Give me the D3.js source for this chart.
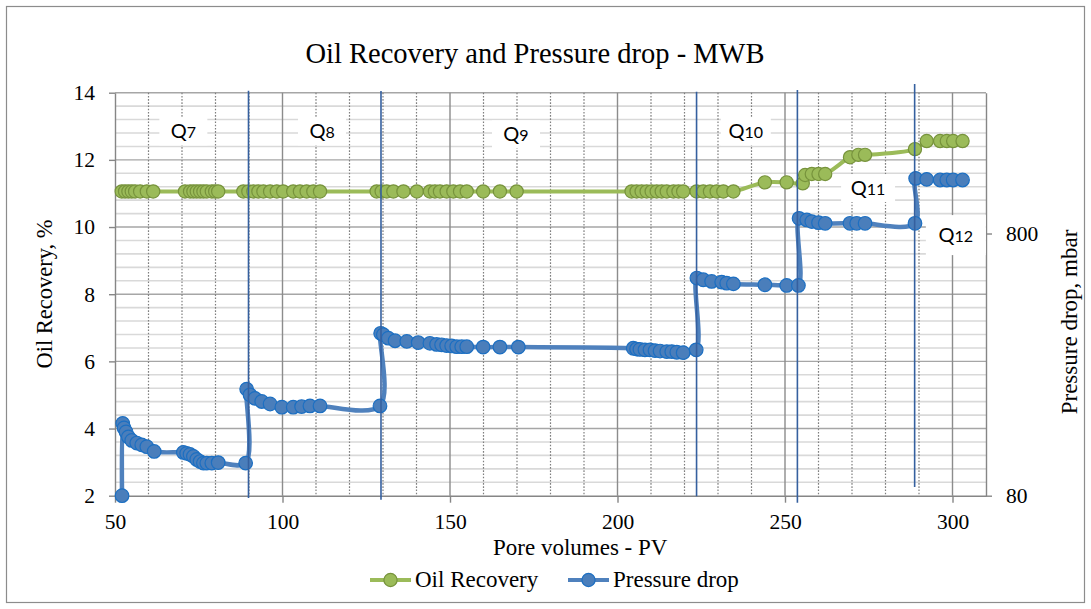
<!DOCTYPE html>
<html>
<head>
<meta charset="utf-8">
<script src="https://cdn.jsdelivr.net/npm/d3@7"></script>
<style>
  body { margin: 0; background: #fff; }
  svg { display: block; }
</style>
</head>
<body>
<svg id="chart" width="1091" height="609"></svg>
<script>
// Oil recovery (%) versus injected pore volumes
const pvOil = [
  52.0, 53.0, 54.0, 55.0, 56.0, 57.5, 59.5, 61.4,
  70.9, 72.4, 73.4, 74.4, 75.4, 76.4, 77.4, 78.9, 79.9, 80.8,
  88.3, 89.8, 91.3, 92.8, 94.3, 96.3, 98.3, 100.2, 103.2, 105.2, 107.2, 109.2, 111.2,
  128.1, 129.6, 131.1, 133.1, 136.1, 140.1, 144.0, 145.5, 147.0, 149.0, 151.0, 153.0, 155.0, 159.9, 164.9, 169.9,
  204.2, 205.7, 207.2, 208.7, 210.2, 211.7, 213.2, 214.7, 216.7, 218.2, 219.6, 223.6, 225.6, 227.6, 229.6, 231.6, 234.6,
  244.0, 250.5, 255.3, 256.0, 258.0, 260.0, 262.0, 269.4, 271.9, 273.9, 288.8, 292.3, 296.3, 298.3, 300.2, 303.0
];
const oilRecovery = [
  11.06, 11.06, 11.06, 11.06, 11.06, 11.06, 11.06, 11.06,
  11.06, 11.06, 11.06, 11.06, 11.06, 11.06, 11.06, 11.06, 11.06, 11.06,
  11.06, 11.06, 11.06, 11.06, 11.06, 11.06, 11.06, 11.06, 11.06, 11.06, 11.06, 11.06, 11.06,
  11.06, 11.06, 11.06, 11.06, 11.06, 11.06, 11.06, 11.06, 11.06, 11.06, 11.06, 11.06, 11.06, 11.06, 11.06, 11.06,
  11.06, 11.06, 11.06, 11.06, 11.06, 11.06, 11.06, 11.06, 11.06, 11.06, 11.06, 11.06, 11.06, 11.06, 11.06, 11.06, 11.06,
  11.33, 11.33, 11.30, 11.55, 11.58, 11.58, 11.58, 12.08, 12.15, 12.15, 12.32, 12.56, 12.56, 12.56, 12.56, 12.56
];

// Pressure drop (mbar) versus injected pore volumes
const pvPressure = [
  52.1, 52.3, 52.7, 53.3, 54.0, 55.0, 56.5, 58.0, 59.5, 61.7,
  70.4, 71.4, 72.4, 73.4, 74.4, 75.4, 76.4, 77.4, 78.9, 80.8, 89.0,
  89.3, 90.3, 91.8, 93.8, 96.3, 99.8, 103.2, 105.7, 108.2, 111.2, 129.1,
  129.3, 130.1, 131.6, 133.6, 137.1, 140.5, 144.0, 146.0, 147.5, 149.0, 150.5, 152.0, 153.5, 155.0, 159.9, 164.9, 170.4,
  204.7, 205.7, 206.7, 208.2, 209.7, 211.2, 212.7, 214.7, 216.2, 217.7, 219.6, 223.5,
  223.7, 225.6, 228.1, 231.1, 232.6, 234.6, 244.0, 250.5, 254.0,
  254.2, 256.5, 258.0, 260.0, 262.0, 269.4, 271.4, 273.9, 288.8,
  289.0, 292.3, 296.3, 298.3, 300.2, 303.0
];
const pressureDrop = [
  80, 151, 145, 140, 134, 130, 127, 125, 123, 118,
  117, 116, 115, 113, 110, 108, 106.5, 106.5, 106.5, 107, 106.5,
  204, 194, 188, 183, 179, 174, 174, 175, 176, 176, 176,
  333, 329, 319, 312, 310, 307, 305, 302, 301, 299, 298, 296, 296, 296, 295, 295, 295,
  292, 290, 289, 288, 288, 286, 285, 283.5, 283.5, 282, 281, 288,
  541, 533, 525, 522, 517, 514, 510, 507, 507,
  914, 901, 888, 880, 875, 875, 875, 875, 875,
  1298, 1287, 1280, 1280, 1280, 1280
];

// Axis ticks
const xTicks = [50, 100, 150, 200, 250, 300];
const yLeftTicks = [2, 4, 6, 8, 10, 12, 14];
const yRightTicks = [80, 800];

// Injection-rate steps and the pore volume at which each new rate starts
const rateSteps = ["7", "8", "9", "10", "11", "12"];
const rateChangePV = [89.85, 129.4, 223.6, 253.7, 288.7];

// ---- layout ----
const svg = d3.select("#chart");
const plot = { left: 115, right: 986, top: 92.7, bottom: 495.7 };
const serif = "'Liberation Serif', 'Times New Roman', serif";
const sans = "Lato, 'Open Sans', sans-serif";

const x = d3.scaleLinear().domain([50, 310]).range([plot.left, plot.right]);
const yL = d3.scaleLinear().domain([2, 14]).range([plot.bottom, plot.top]);
const yR = d3.scaleLog().domain([80, 2755]).range([plot.bottom, plot.top]);

// outer frame
svg.append("rect")
  .attr("x", 6.5).attr("y", 6.5).attr("width", 1078).attr("height", 596)
  .attr("fill", "#fff").attr("stroke", "#8c8c8c").attr("stroke-width", 1.2);

// ---- gridlines ----
const grid = svg.append("g");
const minorY = d3.range(2.4, 14, 0.4).filter(v => Math.abs(v / 2 - Math.round(v / 2)) > 0.01);
grid.selectAll(".hminor").data(minorY).join("line")
  .attr("x1", plot.left).attr("x2", plot.right)
  .attr("y1", d => yL(d)).attr("y2", d => yL(d))
  .attr("stroke", "#d9d9d9").attr("stroke-width", 1.6);
grid.selectAll(".hmajor").data(yLeftTicks.filter(v => v > 2)).join("line")
  .attr("x1", plot.left).attr("x2", plot.right)
  .attr("y1", d => yL(d)).attr("y2", d => yL(d))
  .attr("stroke", "#a6a6a6").attr("stroke-width", 1.4);
const minorX = d3.range(60, 310, 10).filter(v => v % 50 !== 0);
grid.selectAll(".vminor").data(minorX).join("line")
  .attr("x1", d => x(d)).attr("x2", d => x(d))
  .attr("y1", plot.top).attr("y2", plot.bottom)
  .attr("stroke", "#7f7f7f").attr("stroke-width", 1.2)
  .attr("stroke-dasharray", "1.6,1.6");
grid.selectAll(".vmajor").data(xTicks.filter(v => v > 50)).join("line")
  .attr("x1", d => x(d)).attr("x2", d => x(d))
  .attr("y1", plot.top).attr("y2", plot.bottom)
  .attr("stroke", "#8c8c8c").attr("stroke-width", 1.4);

// ---- axes ----
function styleAxis(g) {
  g.select(".domain").attr("stroke", "#868686").attr("stroke-width", 1.4);
  g.selectAll(".tick line").attr("stroke", "#868686").attr("stroke-width", 1.4);
  g.selectAll(".tick text").attr("fill", "#000")
    .style("font-family", serif).style("font-size", "21.5px");
}
svg.append("g").attr("transform", `translate(0,${plot.bottom})`)
  .call(d3.axisBottom(x).tickValues(xTicks).tickSize(7).tickSizeOuter(0).tickPadding(11))
  .call(styleAxis);
svg.append("g").attr("transform", `translate(${plot.left},0)`)
  .call(d3.axisLeft(yL).tickValues(yLeftTicks).tickSize(6).tickSizeOuter(0).tickPadding(14))
  .call(styleAxis);
svg.append("g").attr("transform", `translate(${plot.right},0)`)
  .call(d3.axisRight(yR).tickValues(yRightTicks).tickFormat(d3.format("d"))
    .tickSize(6).tickSizeOuter(0).tickPadding(14))
  .call(styleAxis);

// ---- series ----
const curve = d3.curveCatmullRom.alpha(0.5);
const oilColor = { line: "#9bbb59", fill: "#9bbb59", stroke: "#77933c" };
const prsColor = { line: "#4f81bd", fill: "#4a7ebb", stroke: "#1c6fc2" };

const oilPts = pvOil.map((p, i) => [x(p), yL(oilRecovery[i])]);
const prsPts = pvPressure.map((p, i) => [x(p), yR(pressureDrop[i])]);

svg.append("path").attr("d", d3.line().curve(curve)(oilPts))
  .attr("fill", "none").attr("stroke", oilColor.line).attr("stroke-width", 4)
  .attr("stroke-linejoin", "round");
svg.append("g").selectAll("circle").data(oilPts).join("circle")
  .attr("cx", d => d[0]).attr("cy", d => d[1]).attr("r", 6.6)
  .attr("fill", oilColor.fill).attr("stroke", oilColor.stroke).attr("stroke-width", 1.2);

svg.append("path").attr("d", d3.line().curve(curve)(prsPts))
  .attr("fill", "none").attr("stroke", prsColor.line).attr("stroke-width", 4.5)
  .attr("stroke-linejoin", "round");
svg.append("g").selectAll("circle").data(prsPts).join("circle")
  .attr("cx", d => d[0]).attr("cy", d => d[1]).attr("r", 6.8)
  .attr("fill", prsColor.fill).attr("stroke", prsColor.stroke).attr("stroke-width", 1.2);

// ---- rate-change markers ----
const markerSpan = [[14.06, 1.93], [14.05, 1.88], [14.03, 1.98], [14.08, 1.79], [14.26, 2.26]];
svg.append("g").selectAll("line").data(rateChangePV).join("line")
  .attr("x1", d => x(d)).attr("x2", d => x(d))
  .attr("y1", (d, i) => yL(markerSpan[i][0])).attr("y2", (d, i) => yL(markerSpan[i][1]))
  .attr("stroke", "#35609f").attr("stroke-width", 1.6);

// ---- rate labels ----
const labelAt = [[70.4, 12.85], [111.8, 12.85], [169.7, 12.76], [238.3, 12.85], [274.8, 11.16], [301.0, 9.76]];
const boxSize = [[48, 28], [48, 28], [48, 28], [50, 28], [54, 28], [60, 40]];
const labels = svg.append("g").selectAll("g").data(rateSteps).join("g")
  .attr("transform", (d, i) => `translate(${x(labelAt[i][0])},${yL(labelAt[i][1])})`);
labels.append("rect")
  .attr("x", (d, i) => -boxSize[i][0] / 2).attr("y", (d, i) => -boxSize[i][1] / 2)
  .attr("width", (d, i) => boxSize[i][0]).attr("height", (d, i) => boxSize[i][1])
  .attr("fill", "#fff");
const lt = labels.append("text").attr("text-anchor", "middle").attr("y", 7)
  .style("font-family", sans).attr("fill", "#000");
lt.append("tspan").text("Q").style("font-size", "20px");
lt.append("tspan").text(d => d).style("font-size", "16px");

// ---- titles ----
svg.append("text").attr("x", 535).attr("y", 63).attr("text-anchor", "middle")
  .style("font-family", serif).style("font-size", "28.5px").text("Oil Recovery and Pressure drop - MWB");
svg.append("text").attr("x", 493).attr("y", 555)
  .style("font-family", serif).style("font-size", "23px").text("Pore volumes - PV");
svg.append("text").attr("transform", `translate(52,294) rotate(-90)`).attr("text-anchor", "middle")
  .style("font-family", serif).style("font-size", "22.5px").text("Oil Recovery, %");
svg.append("text").attr("transform", `translate(1077,322) rotate(-90)`).attr("text-anchor", "middle")
  .style("font-family", serif).style("font-size", "23px").text("Pressure drop, mbar");

// ---- legend ----
const legend = svg.append("g");
const legendItems = [
  { name: "Oil Recovery", c: oilColor, x0: 370 },
  { name: "Pressure drop", c: prsColor, x0: 568 }
];
legendItems.forEach(it => {
  legend.append("line").attr("x1", it.x0).attr("x2", it.x0 + 41)
    .attr("y1", 580).attr("y2", 580)
    .attr("stroke", it.c.line).attr("stroke-width", 4);
  legend.append("circle").attr("cx", it.x0 + 20.5).attr("cy", 580).attr("r", 6.6)
    .attr("fill", it.c.fill).attr("stroke", it.c.stroke).attr("stroke-width", 1.2);
  legend.append("text").attr("x", it.x0 + 45).attr("y", 587)
    .style("font-family", serif).style("font-size", "23px").text(it.name);
});
</script>
</body>
</html>
